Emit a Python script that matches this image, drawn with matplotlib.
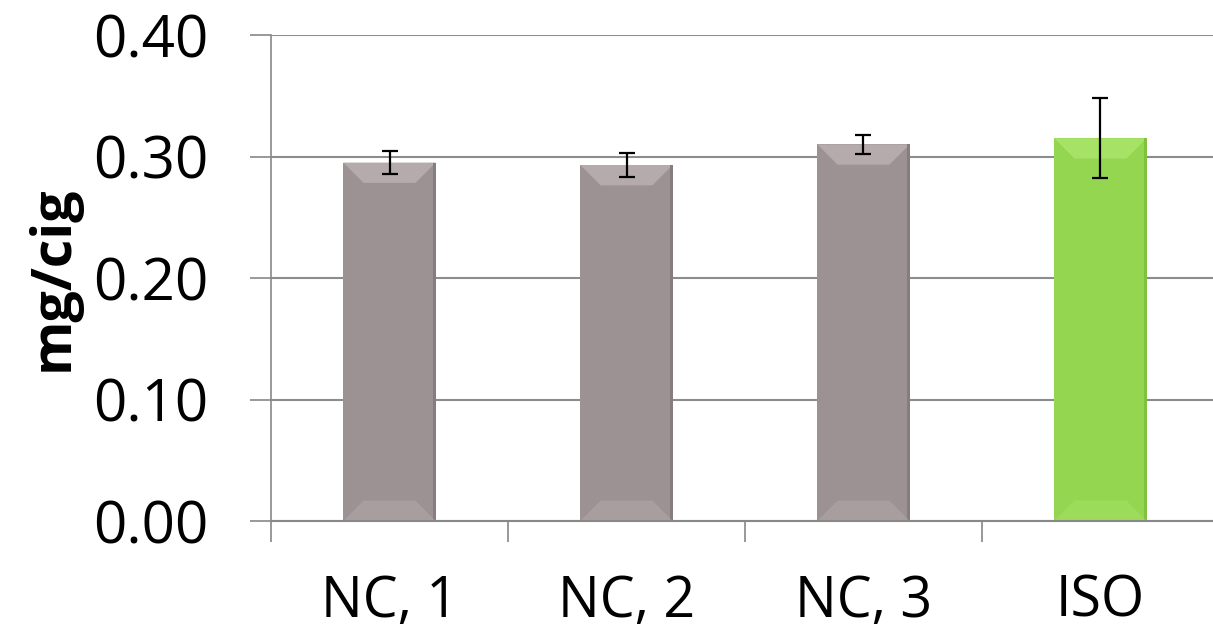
import matplotlib
matplotlib.use("Agg")
import matplotlib.pyplot as plt
from matplotlib.patches import Polygon

categories = ["NC, 1", "NC, 2", "NC, 3", "ISO"]
values = [0.295, 0.293, 0.310, 0.315]
errors = [0.0095, 0.0095, 0.008, 0.033]
colors = ["#9c9193", "#9c9193", "#9c9193", "#95d651"]
light = ["#b5abad", "#b5abad", "#b5abad", "#a6e266"]
dark = ["#877c7e", "#877c7e", "#877c7e", "#80c23e"]
yticks = [0.0, 0.1, 0.2, 0.3, 0.4]

plt.rcParams['font.family'] = ['Open Sans', 'DejaVu Sans']
fig = plt.figure(figsize=(12.13, 6.35), dpi=100)
ax = fig.add_axes([271/1213, 1-521/635, 948/1213, 486/635])

x = list(range(len(categories)))
bars = ax.bar(x, values, width=0.39, color=colors, edgecolor="none", zorder=2)
bbox = ax.get_window_extent()
xpix = bbox.width / 4.0
ypix = bbox.height / 0.4
for b, lc, dc in zip(bars, light, dark):
    x0, y0 = b.get_x(), b.get_y()
    w, h = b.get_width(), b.get_height()
    d = w * 0.22
    dy = d * xpix / ypix
    top = Polygon([(x0, y0 + h), (x0 + w, y0 + h), (x0 + w - d, y0 + h - dy), (x0 + d, y0 + h - dy)],
                  closed=True, facecolor=lc, edgecolor="none", zorder=2.1)
    right = Polygon([(x0 + w, y0 + h), (x0 + w, y0), (x0 + w - d * 0.15, y0), (x0 + w - d * 0.15, y0 + h)],
                    closed=True, facecolor=dc, edgecolor="none", zorder=2.1)
    bottom = Polygon([(x0, y0), (x0 + w, y0), (x0 + w - d, y0 + dy), (x0 + d, y0 + dy)],
                     closed=True, facecolor=lc, edgecolor="none", alpha=0.5, zorder=2.1)
    ax.add_patch(top)
    ax.add_patch(right)
    ax.add_patch(bottom)

ax.errorbar(x, values, yerr=errors, fmt="none", ecolor="black", elinewidth=1.6,
            capsize=5.5, capthick=1.6, zorder=3)

ax.set_xlim(-0.5, 3.5)
ax.set_ylim(0, 0.4)
ax.set_yticks(yticks)
ax.set_yticklabels([f"{t:.2f}" for t in yticks], fontsize=42)
ax.set_xticks(x)
ax.set_xticklabels(categories, fontsize=40)
ax.tick_params(axis="x", length=0, pad=38)
ax.set_xticks([-0.5, 0.5, 1.5, 2.5, 3.5], minor=True)
ax.tick_params(axis="x", which="minor", length=15, width=1.2, color="#888888", direction="out")
ax.tick_params(axis="y", length=15, width=1.2, color="#888888", direction="out", pad=30)
ax.yaxis.grid(True, color="#8c8c8c", linewidth=1.5, zorder=0)
ax.set_axisbelow(True)
for s in ["top", "right"]:
    ax.spines[s].set_visible(False)
ax.spines["left"].set_color("#888888")
ax.spines["left"].set_linewidth(1.2)
ax.spines["bottom"].set_color("#888888")
ax.spines["bottom"].set_linewidth(1.5)
ax.set_ylabel("mg/cig", fontsize=40, fontweight="bold", labelpad=9)

fig.savefig("out.png", dpi=100)
